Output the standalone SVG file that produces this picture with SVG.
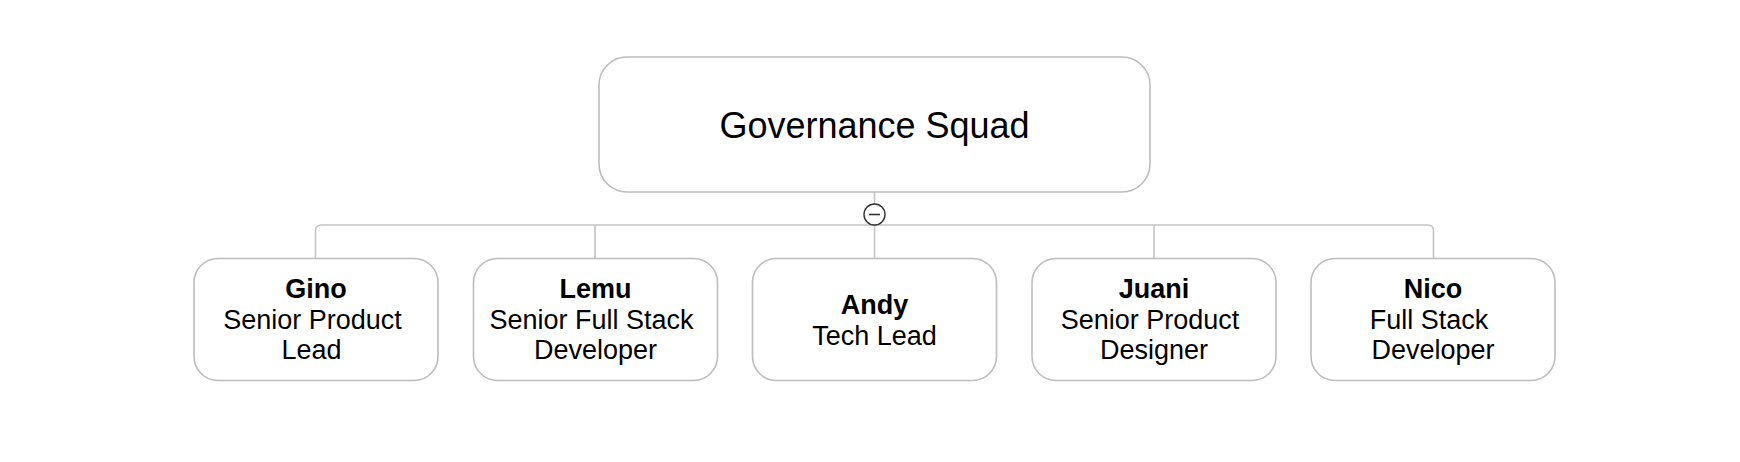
<svg xmlns="http://www.w3.org/2000/svg" width="1740" height="462" viewBox="0 0 1740 462">
<style>
.box{fill:#fff;stroke:#bdbdbd;stroke-width:1.6}
.conn{fill:none;stroke:#c4c4c4;stroke-width:1.6}
text{font-family:"Liberation Sans",Arial,sans-serif;fill:#000;text-anchor:middle}
.t{font-size:36px}
.n{font-size:27px;font-weight:bold}
.r{font-size:27px}
</style>
<rect width="1740" height="462" fill="#fff"/>
<g id="connectors">
<path class="conn" d="M874.5 192V204"/>
<path class="conn" d="M315.5 258V231Q315.5 225 321.5 225H1427.5Q1433.5 225 1433.5 231V258"/>
<path class="conn" d="M595 225V258M874.5 225V258M1154 225V258"/>
<g id="collapse">
<circle cx="874.5" cy="214.5" r="10.5" fill="#fff" stroke="#333" stroke-width="1.4"/>
<path d="M869 214.5H880" stroke="#333" stroke-width="1.6"/>
</g>
</g>
<g id="governance">
<rect class="box" x="599" y="57" width="551" height="135" rx="28"/>
<text class="t" x="874.5" y="137.5">Governance Squad</text>
</g>
<g id="gino">
<rect class="box" x="194" y="258.5" width="244" height="122" rx="24"/>
<text class="n" x="316" y="298">Gino</text>
<text class="r" x="312.5" y="329">Senior Product</text>
<text class="r" x="311.5" y="359">Lead</text>
</g>
<g id="lemu">
<rect class="box" x="473.5" y="258.5" width="244" height="122" rx="24"/>
<text class="n" x="595.5" y="298">Lemu</text>
<text class="r" x="591.5" y="329">Senior Full Stack</text>
<text class="r" x="595.5" y="359">Developer</text>
</g>
<g id="andy">
<rect class="box" x="752.5" y="258.5" width="244" height="122" rx="24"/>
<text class="n" x="874.5" y="314">Andy</text>
<text class="r" x="874.5" y="344.5">Tech Lead</text>
</g>
<g id="juani">
<rect class="box" x="1032" y="258.5" width="244" height="122" rx="24"/>
<text class="n" x="1154" y="298">Juani</text>
<text class="r" x="1150" y="329">Senior Product</text>
<text class="r" x="1154" y="359">Designer</text>
</g>
<g id="nico">
<rect class="box" x="1311" y="258.5" width="244" height="122" rx="24"/>
<text class="n" x="1433" y="298">Nico</text>
<text class="r" x="1429" y="329">Full Stack</text>
<text class="r" x="1433" y="359">Developer</text>
</g>
</svg>
